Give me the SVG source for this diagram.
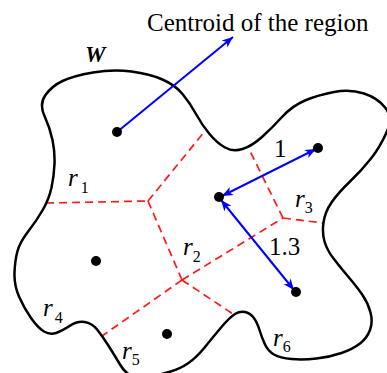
<svg xmlns="http://www.w3.org/2000/svg" width="387" height="373" viewBox="0 0 387 373">
<style>
.t{font-family:"Liberation Serif","Times New Roman",serif;fill:#000}
.lbl{font-size:25px}
.r{font-size:25px}
.sub{font-size:16px;font-style:normal}
.v{fill:none;stroke:#ff1a1a;stroke-width:1.7;stroke-dasharray:8,5}
.a{fill:none;stroke:#0000ff;stroke-width:2}
.dot{fill:#000}
</style>
<defs>
<marker id="ah" markerUnits="userSpaceOnUse" orient="auto-start-reverse" markerWidth="14" markerHeight="12" refX="0" refY="0" overflow="visible">
<path d="M0,0 L-11,-4.5 L-8,0 L-11,4.5 Z" fill="#0000ff"/>
</marker>
</defs>
<rect width="387" height="373" fill="#fff"/>
<g id="voronoi-edges">
<path class="v" d="M46,203 L148,201"/>
<path class="v" d="M148,201 L205,131"/>
<path class="v" d="M148,201 L182,280"/>
<path class="v" d="M182,280 L102,336"/>
<path class="v" d="M182,280 L233,314"/>
<path class="v" d="M182,280 L283,218"/>
<path class="v" d="M283,218 L323,223"/>
<path class="v" d="M283,218 L249,149"/>
</g>
<g id="region-W">
<path fill="none" stroke="#000" stroke-width="2.5" d="M 44.5,116 Q 39,104 45.5,95 T 62.5,81 T 93,72.5 T 131.5,71.5 T 162.5,79.5 T 182.5,94 T 196,114 T 209.5,134 T 225,147.5 T 242.5,149 T 262,137 T 282,117 T 305,100.5 T 334,92 T 364,93.5 T 385.5,108 T 386.5,132.5 T 371,158.5 T 350,181.5 T 331.5,202.5 T 323.5,222.5 T 324.5,241.5 T 333.5,258.5 T 348.5,277 T 362.5,295 T 370.5,312.5 T 370,330 T 360,343.5 T 341.5,353 T 316.5,358.5 T 291.5,359 T 274,354.5 T 265,344.5 T 259.5,330 T 253.5,317.5 T 245,312 T 235,314 T 221.5,327 T 205,347 T 188.5,363 T 169,372 T 149,377.5 T 132.5,376.5 T 120,364.5 T 109,346.5 T 97.5,330 T 84.5,322 T 69.5,326 T 56,333 T 44,331.5 T 31,318 T 19,296.5 T 14.5,272.5 T 17.5,251 T 28.5,231 T 43,209.5 T 51.5,187.5 T 54.5,164 T 52.5,140 T 44.5,116 Z"/>
<text class="t" x="85" y="62" font-size="23" font-weight="bold" font-style="italic">W</text>
</g>
<g id="connectors">
<path class="a" d="M117,132 L233,37" marker-end="url(#ah)"/>
<path class="a" d="M222,196 L316,149" marker-start="url(#ah)" marker-end="url(#ah)"/>
<path class="a" d="M221,200 L294,290" marker-start="url(#ah)" marker-end="url(#ah)"/>
</g>
<g id="centroids">
<circle class="dot" cx="117" cy="132" r="5"/>
<circle class="dot" cx="318" cy="148" r="5"/>
<circle class="dot" cx="219" cy="197" r="5"/>
<circle class="dot" cx="296" cy="292" r="5"/>
<circle class="dot" cx="96" cy="261" r="5"/>
<circle class="dot" cx="167" cy="334" r="5"/>
</g>
<g id="labels">
<text class="t lbl" x="147" y="31">Centroid of the region</text>
<text class="t lbl" x="274" y="157">1</text>
<text class="t lbl" x="269" y="255">1.3</text>
<text class="t r" x="68" y="186"><tspan font-style="italic">r</tspan><tspan class="sub" dx="3" dy="7">1</tspan></text>
<text class="t r" x="183" y="255"><tspan font-style="italic">r</tspan><tspan class="sub" dx="0" dy="7">2</tspan></text>
<text class="t r" x="295" y="207"><tspan font-style="italic">r</tspan><tspan class="sub" dx="0" dy="6">3</tspan></text>
<text class="t r" x="43" y="316"><tspan font-style="italic">r</tspan><tspan class="sub" dx="2" dy="7">4</tspan></text>
<text class="t r" x="122" y="359"><tspan font-style="italic">r</tspan><tspan class="sub" dx="0" dy="6">5</tspan></text>
<text class="t r" x="273" y="346"><tspan font-style="italic">r</tspan><tspan class="sub" dx="0" dy="6">6</tspan></text>
</g>
</svg>
